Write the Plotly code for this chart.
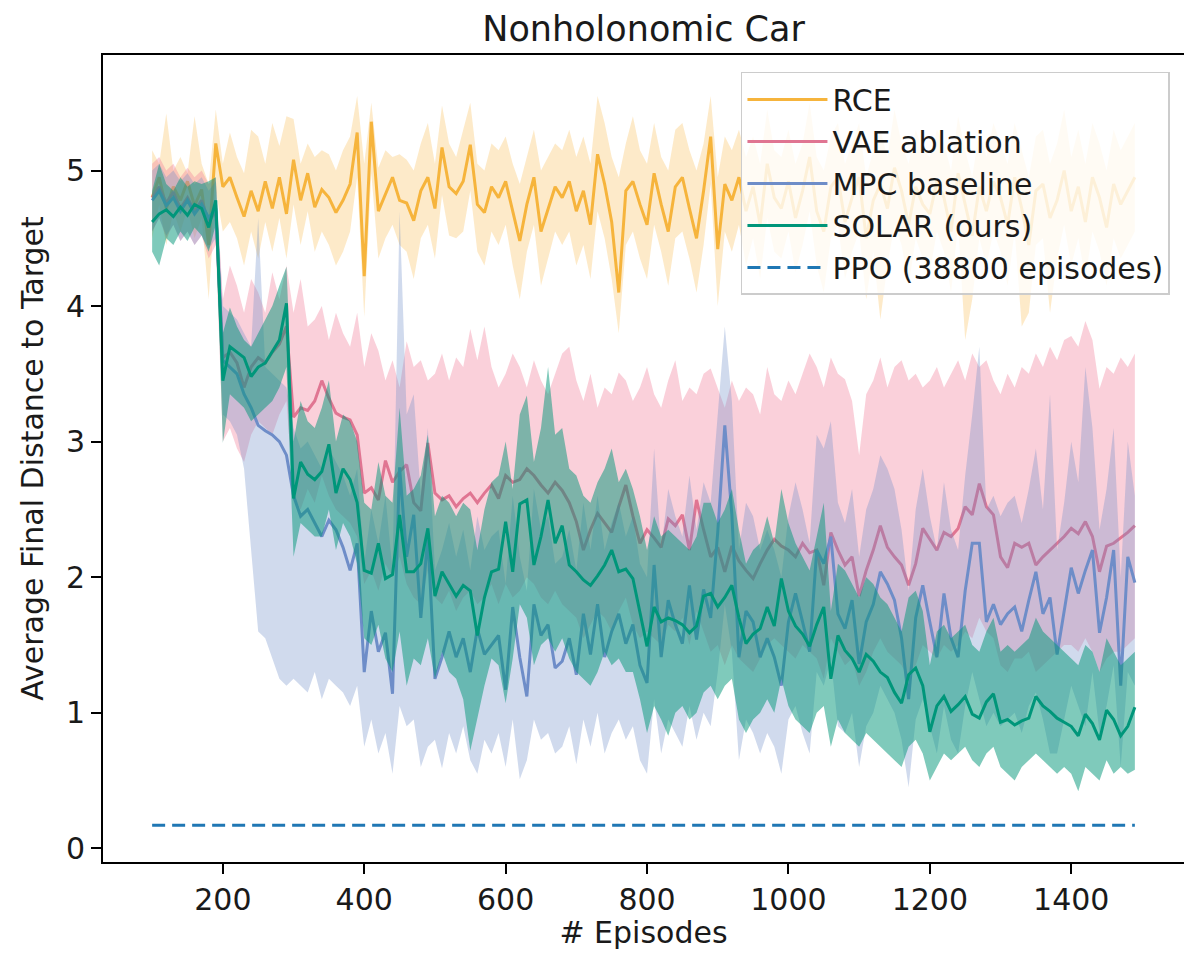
import plotly.graph_objects as go

episodes = list(range(100, 1500, 10))

rce_mean = [4.80, 4.95, 4.72, 4.88, 4.78, 4.92, 4.74, 4.86, 4.45, 5.20,
            4.88, 4.95, 4.80, 4.66, 4.85, 4.70, 4.92, 4.72, 4.95, 4.68,
            5.08, 4.78, 4.98, 4.73, 4.86, 4.80, 4.69, 4.78, 4.90, 5.28,
            4.22, 5.36, 4.70, 4.83, 4.95, 4.78, 4.76, 4.63, 4.85, 4.95,
            4.72, 5.17, 4.88, 4.83, 4.92, 5.19, 4.75, 4.69, 4.88, 4.80,
            4.92, 4.70, 4.48, 4.75, 4.95, 4.55, 4.72, 4.88, 4.80, 4.92,
            4.70, 4.85, 4.60, 5.12, 4.90, 4.62, 4.10, 4.85, 4.92, 4.75,
            4.60, 4.98, 4.75, 4.55, 4.88, 4.95, 4.72, 4.50, 4.85, 5.25,
            4.42, 4.90, 4.78, 4.95, 4.70, 4.88, 4.60, 5.05, 4.80, 4.72,
            4.92, 4.65, 4.85, 5.10, 4.70, 4.55, 4.88, 4.95, 4.62, 4.80,
            4.95, 4.50, 4.78, 4.90, 4.72, 5.02, 4.85, 4.60, 4.88, 4.75,
            4.68, 4.92, 4.80, 4.55, 4.98, 4.75, 4.52, 4.88, 4.70, 4.92,
            4.80, 4.60, 4.95, 4.72, 4.45, 4.85, 4.90, 4.65, 4.78, 5.00,
            4.70, 4.88, 4.62, 4.95, 4.80, 4.58, 4.90, 4.75, 4.85, 4.95]
rce_hi = [5.15, 5.05, 5.42, 5.00, 5.10, 4.98, 5.40, 5.05, 4.90, 5.45,
          5.05, 5.28, 5.10, 4.98, 5.30, 5.25, 5.05, 5.35, 5.18, 5.40,
          5.38, 5.05, 5.20, 5.10, 5.15, 5.12, 5.00, 5.15, 5.25, 5.55,
          5.05, 5.50, 5.02, 5.15, 5.10, 5.12, 5.08, 5.00, 5.20, 5.35,
          5.05, 5.48, 5.20, 5.10, 5.30, 5.50, 5.05, 5.00, 5.20, 5.15,
          5.25, 5.05, 4.90, 5.10, 5.30, 5.00, 5.10, 5.20, 5.15, 5.30,
          5.10, 5.25, 5.05, 5.55, 5.35, 5.10, 4.95, 5.20, 5.40, 5.15,
          5.05, 5.35, 5.10, 5.00, 5.30, 5.35, 5.15, 5.00, 5.20, 5.55,
          4.95, 5.25, 5.15, 5.30, 5.10, 5.25, 5.05, 5.45, 5.15, 5.10,
          5.30, 5.05, 5.20, 5.50, 5.10, 5.00, 5.25, 5.35, 5.05, 5.20,
          5.35, 4.95, 5.15, 5.30, 5.10, 5.45, 5.20, 5.05, 5.30, 5.15,
          5.10, 5.30, 5.20, 5.00, 5.40, 5.15, 4.95, 5.30, 5.10, 5.35,
          5.20, 5.05, 5.35, 5.15, 4.95, 5.25, 5.30, 5.05, 5.20, 5.45,
          5.10, 5.30, 5.05, 5.35, 5.20, 5.00, 5.30, 5.15, 5.25, 5.35]
rce_lo = [4.50, 4.75, 4.45, 4.70, 4.55, 4.72, 4.50, 4.65, 4.05, 4.85,
          4.55, 4.62, 4.50, 4.30, 4.55, 4.35, 4.62, 4.40, 4.65, 4.35,
          4.75, 4.45, 4.70, 4.40, 4.55, 4.45, 4.30, 4.40, 4.55, 4.95,
          3.92, 4.98, 4.35, 4.50, 4.60, 4.45, 4.40, 4.20, 4.50, 4.60,
          4.35, 4.82, 4.52, 4.50, 4.55, 4.85, 4.40, 4.30, 4.55, 4.45,
          4.60, 4.30, 4.05, 4.40, 4.60, 4.15, 4.35, 4.55, 4.45, 4.55,
          4.30, 4.45, 4.20, 4.70, 4.50, 4.20, 3.80, 4.45, 4.55, 4.35,
          4.20, 4.60, 4.40, 4.15, 4.50, 4.55, 4.35, 4.10, 4.45, 4.90,
          4.00, 4.55, 4.40, 4.60, 4.30, 4.50, 4.20, 4.65, 4.40, 4.35,
          4.55, 4.25, 4.45, 4.70, 4.30, 4.10, 4.50, 4.60, 4.20, 4.40,
          4.55, 4.05, 4.40, 3.90, 4.30, 4.60, 4.45, 4.15, 4.50, 4.35,
          4.25, 4.55, 4.40, 4.10, 4.60, 3.75, 4.05, 4.50, 4.30, 4.55,
          4.40, 4.15, 4.55, 3.85, 3.95, 4.45, 4.50, 3.95, 4.35, 4.60,
          4.30, 4.50, 4.20, 4.55, 4.40, 4.15, 4.50, 4.35, 4.45, 4.55]

vae_mean = [4.80, 4.88, 4.76, 4.84, 4.72, 4.80, 4.70, 4.78, 4.62, 4.70,
            3.62, 3.66, 3.58, 3.40, 3.55, 3.62, 3.58, 3.66, 3.72, 3.85,
            3.18, 3.25, 3.23, 3.30, 3.45, 3.32, 3.21, 3.18, 3.16, 3.05,
            2.62, 2.66, 2.57, 2.86, 2.70, 2.78, 2.83, 2.55, 2.49, 2.99,
            2.62, 2.57, 2.60, 2.52, 2.58, 2.62, 2.55, 2.62, 2.68, 2.58,
            2.75, 2.70, 2.72, 2.80, 2.75, 2.68, 2.62, 2.70, 2.64, 2.55,
            2.41, 2.20, 2.35, 2.47, 2.40, 2.33, 2.52, 2.68, 2.45, 2.25,
            2.35, 2.29, 2.22, 2.43, 2.38, 2.46, 2.20, 2.57, 2.35, 2.15,
            2.22, 2.04, 2.23, 2.12, 2.05, 1.99, 2.10, 2.20, 2.28, 2.23,
            2.20, 2.15, 2.25, 2.18, 2.20, 1.94, 2.33, 2.20, 2.09, 2.15,
            1.86, 2.05, 2.20, 2.38, 2.22, 2.15, 2.09, 1.94, 2.10, 2.36,
            2.28, 2.20, 2.33, 2.30, 2.36, 2.52, 2.46, 2.69, 2.52, 2.46,
            2.15, 2.07, 2.25, 2.22, 2.25, 2.09, 2.15, 2.20, 2.25, 2.30,
            2.36, 2.32, 2.41, 2.30, 2.04, 2.23, 2.25, 2.29, 2.33, 2.38]
vae_hi = [5.05, 5.10, 5.00, 5.05, 4.95, 5.02, 4.95, 5.00, 4.90, 4.95,
          4.05, 4.30, 4.15, 3.95, 4.20, 4.10, 3.95, 4.25, 4.05, 4.30,
          3.95, 4.20, 3.85, 3.90, 4.00, 3.75, 3.95, 3.80, 3.70, 3.95,
          3.55, 3.80, 3.67, 3.45, 3.60, 3.40, 3.74, 3.55, 3.60, 3.45,
          3.50, 3.65, 3.45, 3.62, 3.55, 3.83, 3.60, 3.85, 3.55, 3.40,
          3.50, 3.65, 3.55, 3.40, 3.60, 3.45, 3.35, 3.50, 3.65, 3.70,
          3.45, 3.30, 3.50, 3.25, 3.40, 3.35, 3.51, 3.45, 3.30, 3.40,
          3.55, 3.35, 3.25, 3.45, 3.60, 3.30, 3.40, 3.35, 3.50, 3.54,
          3.40, 3.25, 3.45, 3.30, 3.40, 3.35, 3.20, 3.55, 3.35, 3.30,
          3.45, 3.35, 3.50, 3.65, 3.55, 3.40, 3.62, 3.50, 3.46, 3.30,
          2.90, 3.35, 3.45, 3.62, 3.40, 3.55, 3.60, 3.45, 3.50, 3.40,
          3.45, 3.55, 3.40, 3.50, 3.60, 3.45, 3.65, 3.55, 3.60, 3.45,
          3.35, 3.50, 3.40, 3.55, 3.50, 3.65, 3.55, 3.70, 3.60, 3.75,
          3.78, 3.70, 3.89, 3.75, 3.39, 3.55, 3.50, 3.62, 3.55, 3.65]
vae_lo = [4.55, 4.65, 4.50, 4.60, 4.48, 4.55, 4.45, 4.52, 4.35, 4.45,
          3.00, 3.10, 2.95, 2.85, 3.05, 3.15, 3.10, 3.05, 3.20, 3.30,
          2.60, 2.50, 2.65, 2.55, 2.75, 2.60, 2.50, 2.45, 2.40, 2.30,
          1.95, 2.05, 1.90, 2.10, 2.00, 2.15, 1.95, 1.85, 1.80, 2.05,
          1.85, 1.80, 1.90, 1.75, 1.85, 1.90, 1.80, 1.85, 1.95, 1.80,
          1.95, 1.85, 1.90, 2.00, 1.95, 1.85, 1.80, 1.90, 1.80, 1.75,
          1.70, 1.55, 1.65, 1.75, 1.70, 1.60, 1.75, 1.85, 1.65, 1.55,
          1.60, 1.55, 1.50, 1.65, 1.60, 1.70, 1.50, 1.75, 1.60, 1.45,
          1.50, 1.35, 1.50, 1.40, 1.35, 1.30, 1.40, 1.50, 1.55, 1.50,
          1.45, 1.40, 1.50, 1.45, 1.40, 1.25, 1.55, 1.45, 1.35, 1.40,
          1.20, 1.30, 1.45, 1.55, 1.45, 1.40, 1.35, 1.25, 1.35, 1.50,
          1.45, 1.40, 1.50, 1.45, 1.50, 1.60, 1.55, 1.70, 1.60, 1.55,
          1.35, 1.30, 1.40, 1.40, 1.45, 1.30, 1.35, 1.40, 1.45, 1.50,
          1.50, 1.45, 1.55, 1.45, 1.30, 1.40, 1.45, 1.45, 1.50, 1.55]

mpc_mean = [4.78, 4.85, 4.74, 4.80, 4.70, 4.78, 4.68, 4.75, 4.65, 4.72,
            3.60, 3.55, 3.50, 3.35, 3.25, 3.12, 3.08, 3.05, 3.00, 2.90,
            2.60, 2.45, 2.50, 2.40, 2.30, 2.42, 2.35, 2.22, 2.05, 2.25,
            1.30, 1.75, 1.45, 1.59, 1.14, 2.81, 2.15, 2.46, 1.70, 2.30,
            1.25, 1.41, 1.60, 1.41, 1.55, 1.30, 1.62, 1.43, 1.50, 1.57,
            1.17, 1.78, 1.41, 1.12, 1.80, 1.57, 1.65, 1.33, 1.38, 1.55,
            1.28, 1.73, 1.43, 1.80, 1.41, 1.60, 1.73, 1.51, 1.65, 1.35,
            1.22, 2.09, 1.41, 1.83, 1.65, 1.51, 1.94, 1.54, 1.91, 1.70,
            2.33, 3.12, 2.46, 1.41, 1.75, 1.67, 1.41, 1.55, 1.41, 1.20,
            1.67, 1.88, 1.67, 1.45, 2.20, 2.10, 2.30, 1.73, 1.62, 1.83,
            1.36, 1.67, 1.80, 2.04, 1.95, 1.83, 1.55, 1.10, 1.70, 1.94,
            1.67, 1.41, 1.88, 1.55, 1.41, 1.90, 2.25, 2.25, 1.67, 1.80,
            1.65, 1.73, 1.78, 1.60, 1.83, 2.04, 1.73, 1.85, 1.43, 1.75,
            2.07, 1.88, 2.05, 2.20, 1.59, 1.85, 2.20, 1.20, 2.15, 1.96]
mpc_hi = [5.00, 5.05, 4.95, 5.00, 4.92, 4.98, 4.90, 4.95, 4.85, 4.92,
          4.00, 3.95, 3.90, 3.80, 3.70, 4.65, 3.55, 3.50, 3.45, 3.40,
          3.10, 2.95, 3.00, 2.90, 2.80, 2.95, 2.85, 2.75, 2.60, 2.80,
          2.10, 2.50, 2.25, 2.60, 2.05, 4.70, 3.20, 3.35, 2.60, 3.10,
          2.05, 2.20, 2.40, 2.15, 2.35, 2.05, 2.45, 2.20, 2.30, 2.35,
          1.95, 2.60, 2.15, 1.90, 2.65, 2.35, 2.45, 2.10, 2.15, 2.35,
          2.05, 2.55, 2.20, 2.60, 2.20, 2.40, 2.55, 2.30, 2.45, 2.10,
          2.00, 2.95, 2.20, 2.65, 2.45, 2.30, 2.75, 2.35, 2.70, 2.55,
          3.20, 3.85, 3.30, 2.20, 2.55, 2.45, 2.20, 2.35, 2.20, 2.00,
          2.45, 2.70, 2.50, 2.25, 3.05, 2.95, 3.15, 2.55, 2.40, 2.65,
          2.15, 2.50, 2.65, 2.90, 2.80, 2.65, 2.35, 1.90, 2.50, 2.80,
          2.45, 2.20, 2.70, 2.35, 2.20, 2.75, 3.20, 3.70, 2.50, 2.60,
          2.45, 2.55, 2.60, 2.40, 2.65, 2.95, 2.50, 3.35, 2.20, 2.55,
          3.00, 2.70, 3.55, 3.10, 2.35, 2.65, 3.10, 2.00, 3.00, 2.60]
mpc_lo = [4.55, 4.65, 4.52, 4.60, 4.48, 4.55, 4.45, 4.52, 4.42, 4.50,
          3.20, 3.15, 3.05, 2.80, 2.20, 1.60, 1.55, 1.40, 1.25, 1.20,
          1.25, 1.20, 1.15, 1.30, 1.10, 1.25, 1.20, 1.15, 1.05, 1.20,
          0.75, 0.95, 0.70, 0.85, 0.55, 1.05, 0.90, 0.95, 0.60, 0.75,
          0.80, 0.59, 0.85, 0.70, 0.90, 0.65, 0.55, 0.80, 0.70, 0.85,
          0.60, 0.95, 0.51, 0.65, 0.95, 0.80, 0.85, 0.70, 0.75, 0.90,
          0.62, 0.95, 0.75, 1.00, 0.70, 0.85, 0.95, 0.80, 0.90, 0.65,
          0.55, 1.10, 0.70, 0.95, 0.85, 0.75, 1.05, 0.80, 1.00, 0.90,
          1.30, 1.80, 1.45, 0.65, 0.95, 0.85, 0.70, 0.85, 0.75, 0.55,
          0.95, 1.05, 0.85, 0.70, 1.30, 1.20, 1.40, 0.90, 0.85, 1.00,
          0.60, 0.90, 1.00, 1.20, 1.10, 1.00, 0.80, 0.45, 0.95, 1.10,
          0.90, 0.70, 1.05, 0.80, 0.70, 1.05, 1.30, 1.10, 0.90, 1.00,
          0.90, 0.95, 1.00, 0.85, 1.05, 1.15, 0.95, 0.70, 0.70, 0.95,
          1.20, 1.05, 0.90, 1.30, 0.85, 1.05, 1.35, 0.60, 1.30, 1.20]

solar_mean = [4.62, 4.68, 4.71, 4.66, 4.73, 4.67, 4.75, 4.72, 4.58, 4.78,
              3.45, 3.70, 3.66, 3.62, 3.48, 3.55, 3.58, 3.66, 3.75, 4.02,
              2.58, 2.85, 2.76, 2.72, 2.78, 2.98, 2.62, 2.80, 2.72, 2.55,
              2.05, 2.03, 2.25, 1.99, 2.02, 2.46, 2.04, 2.04, 2.10, 2.36,
              1.86, 2.04, 1.95, 1.86, 1.94, 1.90, 1.57, 1.85, 2.04, 2.06,
              2.41, 2.04, 2.54, 2.57, 2.09, 2.30, 2.57, 2.25, 2.38, 2.09,
              2.04, 1.98, 1.94, 2.01, 2.09, 2.20, 2.04, 2.06, 1.99, 1.75,
              1.49, 1.78, 1.67, 1.70, 1.68, 1.65, 1.59, 1.64, 1.86, 1.88,
              1.78, 1.85, 1.94, 1.70, 1.51, 1.58, 1.62, 1.78, 1.64, 1.99,
              1.75, 1.64, 1.58, 1.49, 1.65, 1.78, 1.25, 1.57, 1.46, 1.40,
              1.30, 1.43, 1.38, 1.30, 1.26, 1.15, 1.07, 1.28, 1.33, 1.20,
              0.86, 1.05, 1.12, 1.01, 1.06, 1.12, 0.99, 0.96, 1.08, 1.14,
              0.93, 0.95, 0.91, 0.94, 0.96, 1.12, 1.05, 1.01, 0.96, 0.93,
              0.90, 0.83, 0.99, 0.92, 0.80, 1.02, 0.95, 0.83, 0.90, 1.04]
solar_hi = [4.85, 5.05, 4.90, 4.85, 4.95, 4.88, 4.92, 4.90, 4.92, 4.95,
            3.80, 3.99, 3.85, 3.75, 3.70, 3.80, 3.90, 4.00, 4.15, 4.29,
            3.00, 3.30, 3.15, 3.10, 3.25, 3.45, 3.00, 3.20, 3.15, 3.00,
            2.55, 2.50, 2.85, 2.60, 2.55, 3.25, 2.60, 2.65, 2.75, 3.05,
            2.45, 2.60, 2.55, 2.45, 2.55, 2.50, 2.20, 2.50, 2.70, 2.75,
            3.00, 2.65, 3.20, 3.34, 2.85, 3.10, 3.55, 3.05, 3.10, 2.80,
            2.75, 2.60, 2.55, 2.70, 2.80, 2.95, 2.70, 2.80, 2.65, 2.45,
            2.20, 2.45, 2.30, 2.35, 2.30, 2.25, 2.20, 2.30, 2.55, 2.55,
            2.40, 2.50, 2.65, 2.35, 2.10, 2.20, 2.25, 2.45, 2.25, 2.65,
            2.40, 2.25, 2.15, 2.05, 2.30, 2.55, 1.75, 2.10, 2.05, 1.95,
            1.85, 2.00, 1.95, 1.85, 1.80, 1.70, 1.60, 1.85, 1.90, 1.75,
            1.35, 1.60, 1.65, 1.55, 1.60, 1.65, 1.50, 1.45, 1.60, 1.70,
            1.45, 1.50, 1.45, 1.50, 1.55, 1.70, 1.60, 1.55, 1.50, 1.45,
            1.40, 1.35, 1.50, 1.45, 1.30, 1.55, 1.45, 1.35, 1.40, 1.45]
solar_lo = [4.40, 4.30, 4.50, 4.45, 4.55, 4.48, 4.58, 4.52, 4.40, 4.60,
            2.99, 3.35, 3.30, 3.25, 3.15, 3.20, 3.25, 3.30, 3.40, 3.55,
            2.15, 2.40, 2.35, 2.30, 2.30, 2.50, 2.20, 2.40, 2.30, 2.10,
            1.55, 1.50, 1.65, 1.40, 1.30, 1.60, 1.20, 1.40, 1.35, 1.55,
            1.25, 1.45, 1.30, 1.25, 1.10, 0.72, 0.95, 1.20, 1.40, 1.35,
            1.07, 1.40, 1.80, 1.70, 1.35, 1.50, 1.55, 1.45, 1.55, 1.40,
            1.30, 1.25, 1.20, 1.30, 1.45, 1.35, 1.40, 1.30, 1.30, 1.10,
            0.85, 1.05, 0.95, 0.83, 1.00, 1.05, 0.95, 1.00, 1.15, 1.20,
            1.10, 1.20, 1.25, 0.95, 0.85, 0.95, 1.00, 1.10, 1.00, 1.25,
            1.05, 0.95, 0.90, 0.85, 1.00, 1.05, 0.75, 0.95, 0.85, 0.80,
            0.75, 0.85, 0.80, 0.75, 0.70, 0.65, 0.60, 0.75, 0.80, 0.70,
            0.50, 0.60, 0.70, 0.65, 0.70, 0.75, 0.65, 0.60, 0.70, 0.75,
            0.60, 0.55, 0.50, 0.60, 0.65, 0.70, 0.65, 0.60, 0.55, 0.60,
            0.55, 0.42, 0.60, 0.55, 0.50, 0.65, 0.55, 0.60, 0.55, 0.58]

ppo_value = 0.17
ppo_label = "PPO (38800 episodes)"

series = [
    ("RCE", rce_mean, rce_lo, rce_hi, "#F6B43C", "rgba(248,180,60,0.28)"),
    ("VAE ablation", vae_mean, vae_lo, vae_hi, "#E07592", "rgba(240,120,150,0.35)"),
    ("MPC baseline", mpc_mean, mpc_lo, mpc_hi, "#6E8DC8", "rgba(110,140,200,0.32)"),
    ("SOLAR (ours)", solar_mean, solar_lo, solar_hi, "#00967A", "rgba(0,150,120,0.50)"),
]

FONT = "DejaVu Sans"
TXT = "#1a1a1a"
fig = go.Figure()
for name, mean, lo, hi, lc, fc in series:
    fig.add_trace(go.Scatter(
        x=episodes + episodes[::-1], y=hi + lo[::-1],
        fill="toself", fillcolor=fc, line=dict(width=0, color=fc),
        mode="lines", showlegend=False, hoverinfo="skip"))
    fig.add_trace(go.Scatter(
        x=episodes, y=mean, mode="lines", name=name,
        line=dict(color=lc, width=3)))

fig.add_trace(go.Scatter(
    x=[episodes[0], episodes[-1]], y=[ppo_value, ppo_value], mode="lines",
    name=ppo_label, line=dict(color="#1f77b4", width=3, dash="13px,7px")))

# the page body has an 8px margin, so the figure is sized to fit inside it
fig.update_layout(
    width=1184, height=942,
    margin=dict(l=95, r=8, t=47, b=88, autoexpand=False),
    paper_bgcolor="white", plot_bgcolor="white",
    font=dict(family=FONT, size=30, color=TXT),
    title=dict(text="Nonholonomic Car", x=0.5, xref="paper", xanchor="center",
               y=0.9775, yanchor="middle", yref="container",
               font=dict(family=FONT, size=35, color=TXT)),
    legend=dict(x=0.987, xanchor="right", y=0.979, yanchor="top",
                bgcolor="rgba(255,255,255,0.8)", bordercolor="#cccccc",
                borderwidth=1.5, font=dict(family=FONT, size=30, color=TXT),
                itemwidth=80, tracegroupgap=0),
    showlegend=True,
)
fig.update_xaxes(
    range=[30.5, 1559.5], tickvals=[200, 400, 600, 800, 1000, 1200, 1400],
    showline=True, linecolor="black", linewidth=1.8, mirror=True,
    ticks="outside", ticklen=10, tickwidth=1.6, tickcolor="black",
    showgrid=False, zeroline=False, automargin=False,
    tickfont=dict(family=FONT, size=30, color=TXT),
    title=dict(text="# Episodes", font=dict(family=FONT, size=30, color=TXT), standoff=6))
fig.update_yaxes(
    range=[-0.101, 5.852], tickvals=[0, 1, 2, 3, 4, 5],
    showline=True, linecolor="black", linewidth=1.8, mirror=True,
    ticks="outside", ticklen=10, tickwidth=1.6, tickcolor="black",
    showgrid=False, zeroline=False, automargin=False,
    tickfont=dict(family=FONT, size=30, color=TXT),
    title=dict(text="Average Final Distance to Target", font=dict(family=FONT, size=30, color=TXT), standoff=14))

fig.write_html("out.html")
